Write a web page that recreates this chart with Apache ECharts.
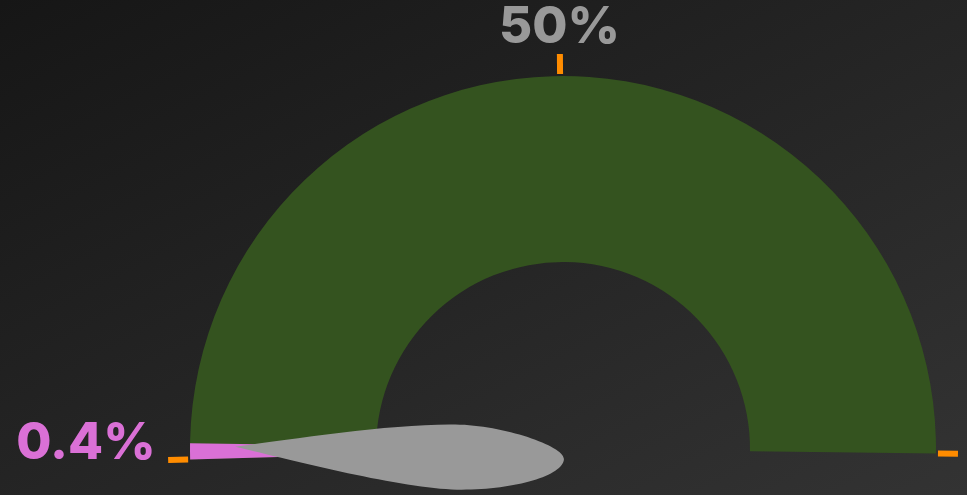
<!DOCTYPE html>
<html><head><meta charset="utf-8">
<script src="https://cdn.jsdelivr.net/npm/echarts@6/dist/echarts.min.js"></script>
<style>
html,body{margin:0;padding:0;width:967px;height:495px;overflow:hidden;background:linear-gradient(to bottom right,#161616,#333333);}
#c{width:967px;height:495px;}
</style>
</head><body><div id="c"></div>
<script>
// ---- data ----
const gaugeValues = [0.4];
const axisRange = [-1, 101];
const tickValues = [-1, 50, 101];
const tickLabels = ['', '50%', ''];
const valueSuffix = '%';

// ---- chart ----
const chart = echarts.init(document.getElementById('c'), null, {renderer: 'canvas'});
const pointerPath = 'path://M-2,-328 C7,-268 23.7,-170 23.7,-108 C23.7,-60 4,1.1 -9,1.1 C-26,1.1 -41.3,-50 -41.3,-105.5 C-41.3,-160 -15.2,-268 -2,-328 Z';
const common = {
  type: 'gauge',
  center: [563, 449],
  radius: 373,
  startAngle: 181.6,
  endAngle: -0.7,
  min: axisRange[0],
  max: axisRange[1],
  splitNumber: tickValues.length - 1,
  data: gaugeValues.map(v => ({ value: v }))
};
chart.setOption({
  backgroundColor: 'transparent',
  animation: false,
  series: [Object.assign({}, common, {
    z: 2,
    axisLine: { lineStyle: { width: 186, color: [[1, '#34531F']] } },
    progress: { show: true, width: 186, itemStyle: { color: '#DA70D6' } },
    axisTick: { show: false },
    splitLine: { show: true, distance: -208, length: 20, lineStyle: { color: '#FF8C00', width: 6 } },
    axisLabel: {
      show: true,
      distance: 114,
      color: '#999999',
      fontSize: 51,
      fontWeight: 800,
      fontFamily: 'Inter',
      formatter: function (v) {
        const i = tickValues.indexOf(Math.round(v));
        return i >= 0 ? tickLabels[i] : '';
      }
    },
    pointer: { show: false },
    anchor: { show: false },
    title: { show: false },
    detail: {
      show: true,
      offsetCenter: [-477, -5],
      fontSize: 51,
      fontWeight: 800,
      fontFamily: 'Inter',
      color: '#DA70D6',
      formatter: function (v) { return v + valueSuffix; }
    }
  }), Object.assign({}, common, {
    z: 5,
    axisLine: { show: false },
    progress: { show: false },
    axisTick: { show: false },
    splitLine: { show: false },
    axisLabel: { show: false },
    pointer: {
      show: true,
      icon: pointerPath,
      length: 329,
      width: 65,
      offsetCenter: [-9.8, 1.1],
      keepAspect: false,
      itemStyle: { color: '#999999' }
    },
    anchor: { show: false },
    title: { show: false },
    detail: { show: false }
  })]
});
</script>
</body></html>
